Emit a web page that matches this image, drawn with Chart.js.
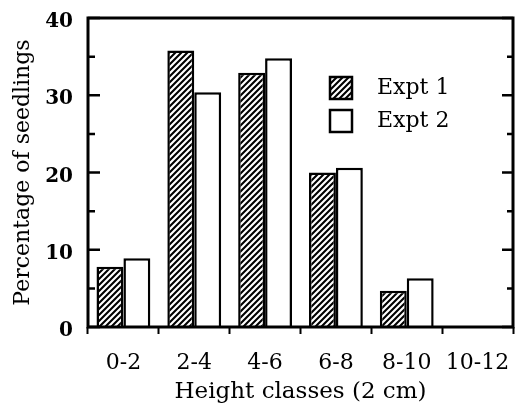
<!DOCTYPE html>
<html><head><meta charset="utf-8">
<script src="https://cdn.jsdelivr.net/npm/chart.js@4"></script>
<style>html,body{margin:0;padding:0;background:#fff;} canvas{display:block;}</style>
</head><body>
<canvas id="c" width="515" height="406"></canvas>
<script>
const categories = ['0-2', '2-4', '4-6', '6-8', '8-10', '10-12'];
const expt1 = [7.8, 35.8, 32.9, 20.0, 4.7, 0];
const expt2 = [8.9, 30.4, 34.8, 20.6, 6.3, 0];
const seriesLabels = ['Expt 1', 'Expt 2'];
const yTicks = [0, 10, 20, 30, 40];
const yMinorTicks = [5, 15, 25, 35];
const xTitle = 'Height classes (2 cm)';
const yTitle = 'Percentage of seedlings';

const FONT = '"DejaVu Serif", "Liberation Serif", serif';
Chart.defaults.font.family = FONT;
Chart.defaults.color = '#000';

function makeHatch(ctx) {
  const s = 6;
  const c = document.createElement('canvas'); c.width = s; c.height = s;
  const g = c.getContext('2d');
  g.fillStyle = '#fff'; g.fillRect(0, 0, s, s);
  g.strokeStyle = '#000'; g.lineWidth = 2.1;
  g.beginPath();
  g.moveTo(-1, s + 1); g.lineTo(s + 1, -1);
  g.moveTo(-2, 2); g.lineTo(2, -2);
  g.moveTo(s - 2, s + 2); g.lineTo(s + 2, s - 2);
  g.stroke();
  return ctx.createPattern(c, 'repeat');
}

const canvas = document.getElementById('c');
const ctx0 = canvas.getContext('2d');
const hatch = makeHatch(ctx0);

const framePlugin = {
  id: 'frame',
  afterDatasetsDraw(chart) {
    const {ctx, chartArea: a, scales: {y}} = chart;
    ctx.save();
    ctx.strokeStyle = '#000';
    ctx.lineWidth = 3;
    ctx.strokeRect(a.left, a.top, a.right - a.left, a.bottom - a.top);
    ctx.lineWidth = 2.5;
    ctx.beginPath();
    yTicks.forEach(v => {
      const p = y.getPixelForValue(v);
      ctx.moveTo(a.left, p); ctx.lineTo(a.left + 12, p);
      ctx.moveTo(a.right, p); ctx.lineTo(a.right - 11, p);
    });
    yMinorTicks.forEach(v => {
      const p = y.getPixelForValue(v);
      ctx.moveTo(a.left, p); ctx.lineTo(a.left + 7, p);
      ctx.moveTo(a.right, p); ctx.lineTo(a.right - 6, p);
    });
    ctx.stroke();
    // legend
    const boxes = [[330, 77], [330, 110]];
    chart.data.datasets.forEach((ds, i) => {
      const [bx, by] = boxes[i];
      ctx.fillStyle = ds.backgroundColor;
      ctx.fillRect(bx, by, 22, 22);
      ctx.lineWidth = 2.5;
      ctx.strokeRect(bx, by, 22, 22);
      ctx.fillStyle = '#000';
      ctx.font = '22px ' + FONT;
      ctx.textBaseline = 'middle';
      ctx.textAlign = 'left';
      ctx.fillText(ds.label, 377, by + 11);
    });
    ctx.restore();
  }
};

new Chart(canvas, {
  type: 'bar',
  data: {
    labels: categories,
    datasets: [
      {label: seriesLabels[0], data: expt1, backgroundColor: hatch, borderColor: '#000', borderWidth: 2.5},
      {label: seriesLabels[1], data: expt2, backgroundColor: '#fff', borderColor: '#000', borderWidth: 2.5}
    ]
  },
  options: {
    responsive: false,
    animation: false,
    devicePixelRatio: 1,
    layout: {padding: {top: 18, right: 2, left: 0, bottom: 0}},
    datasets: {bar: {categoryPercentage: 0.76, barPercentage: 1}},
    plugins: {legend: {display: false}, tooltip: {enabled: false}},
    scales: {
      x: {
        grid: {display: true, drawOnChartArea: false, drawTicks: true, tickLength: 7, tickWidth: 2, tickColor: '#000', offset: true},
        border: {display: false},
        ticks: {color: '#000', font: {size: 22}, padding: 16, maxRotation: 0, autoSkip: false},
        title: {display: true, text: xTitle, color: '#000', font: {size: 23}, padding: {top: 0, bottom: 0}},
        afterFit(s) { s.height = 79; s.paddingLeft = 0; s.paddingRight = 0; }
      },
      y: {
        min: 0, max: 40,
        grid: {display: false, drawTicks: false},
        border: {display: false},
        ticks: {stepSize: 10, color: '#000', font: {size: 20, weight: 'bold'}, padding: 15, labelOffset: 4},
        title: {display: true, text: yTitle, color: '#000', font: {size: 22}, padding: {top: 10, bottom: 0}},
        afterFit(s) { s.width = 88; s.paddingTop = 0; s.paddingBottom = 0; }
      }
    }
  },
  plugins: [framePlugin]
});
</script>
</body></html>
